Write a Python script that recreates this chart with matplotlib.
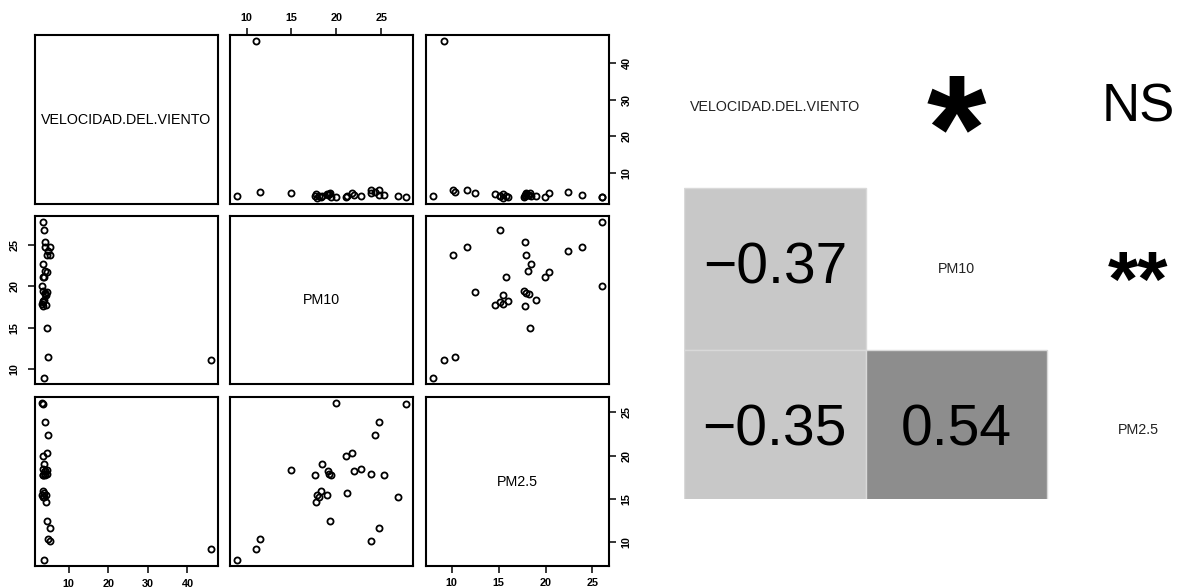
import matplotlib
matplotlib.use("Agg")
import matplotlib.pyplot as plt
from matplotlib.patches import Rectangle
from matplotlib.transforms import offset_copy

plt.rcParams['font.family'] = ['Liberation Sans', 'DejaVu Sans']

# ---------------- data ----------------
var_names = ["VELOCIDAD.DEL.VIENTO", "PM10", "PM2.5"]
wind = [3.3, 3.5, 3.9, 4.8, 3.4, 4.4, 4.5, 3.7, 3.6, 3.9, 4.1, 3.5, 4.0, 3.6, 4.4,
        3.9, 3.4, 3.2, 3.6, 4.3, 4.3, 3.8, 3.7, 4.5, 5.3, 5.2, 4.8, 46.0, 3.7]
pm10 = [20.0, 27.78, 24.72, 24.27, 21.1, 21.73, 14.93, 18.36, 17.62, 19.08, 19.19,
        19.45, 21.92, 22.74, 23.86, 25.36, 18.25, 17.8, 18.07, 19.0, 17.74, 21.17,
        26.85, 19.26, 24.72, 23.82, 11.46, 11.08, 8.91]
pm25 = [26.04, 25.97, 23.84, 22.42, 19.99, 20.34, 18.37, 18.98, 17.79, 18.22, 17.9,
        17.75, 18.17, 18.48, 17.9, 17.79, 15.97, 15.51, 15.2, 15.44, 14.63, 15.74,
        15.2, 12.5, 11.66, 10.15, 10.35, 9.19, 7.99]
axis_ticks = [[10, 20, 30, 40], [10, 15, 20, 25], [10, 15, 20, 25]]

# correlation panel
corr_cells = [(1, 0, -0.37), (2, 0, -0.35), (2, 1, 0.54)]   # (row, col, r)
signif_cells = [(0, 1, "*"), (0, 2, "NS"), (1, 2, "**")]

# ---------------- layout ----------------
W, H = 1187, 588
fig = plt.figure(figsize=(W / 100, H / 100), dpi=100)


def ax_at(x0, y0, x1, y1):
    return fig.add_axes([x0 / W, 1 - y1 / H, (x1 - x0) / W, (y1 - y0) / H])


cols_px = [(35, 218), (230, 413), (426, 609)]
rows_px = [(35, 204), (216, 384), (397, 566)]
data = [wind, pm10, pm25]


def lims(v):
    lo, hi = min(v), max(v)
    r = hi - lo
    return lo - 0.04 * r, hi + 0.04 * r


n = 3
for i in range(n):
    for j in range(n):
        ax = ax_at(cols_px[j][0], rows_px[i][0], cols_px[j][1], rows_px[i][1])
        ax.set_xlim(lims(data[j]))
        ax.set_ylim(lims(data[i]))
        for s in ax.spines.values():
            s.set_linewidth(1.5)
        if i == j:
            ax.text(0.5, 0.5, var_names[i], transform=ax.transAxes, ha='center',
                    va='center', fontsize=10.3, color='black')
        else:
            ax.plot(data[j], data[i], 'o', mfc='none', mec='black', ms=4.4, mew=1.3,
                    linestyle='none')
        ax.tick_params(which='both', top=False, bottom=False, left=False, right=False,
                       labeltop=False, labelbottom=False, labelleft=False,
                       labelright=False, direction='out', length=5, width=1.1,
                       labelsize=7.8)
        # x axis: top for even columns (1-based), bottom for odd
        if i == 0 and j % 2 == 1:
            ax.set_xticks(axis_ticks[j])
            ax.tick_params(top=True, labeltop=True, pad=3.5)
        elif i == n - 1 and j % 2 == 0:
            ax.set_xticks(axis_ticks[j])
            ax.tick_params(bottom=True, labelbottom=True, pad=4.5)
        else:
            ax.set_xticks([])
        # y axis: left for even rows (1-based), right for odd
        if j == 0 and i % 2 == 1:
            ax.set_yticks(axis_ticks[i])
            ax.tick_params(left=True, labelleft=True, pad=6)
            for t in ax.get_yticklabels():
                t.set_rotation(90)
                t.set_va('center')
        elif j == n - 1 and i % 2 == 0:
            ax.set_yticks(axis_ticks[i])
            ax.tick_params(right=True, labelright=True, pad=4)
            for t in ax.get_yticklabels():
                t.set_rotation(90)
                t.set_va('center')
        else:
            ax.set_yticks([])
        for t in ax.get_xticklabels() + ax.get_yticklabels():
            t.set_fontweight('bold')

# ---------------- correlation matrix ----------------
cell_w, cell_h = 181.7, 161.6
x0, x1 = 684, W
y_top, y_bot = 26.4, 499.3
axc = ax_at(x0, y_top, x1, y_bot)
axc.set_xlim(0, (x1 - x0) / cell_w)
axc.set_ylim(3 - (y_bot - y_top) / cell_h, 3)
axc.axis('off')


def cell_xy(r, c):
    return c, 2 - r


for r, c, val in corr_cells:
    cx, cy = cell_xy(r, c)
    col = '#c8c8c8' if val < 0 else '#8d8d8d'
    axc.add_patch(Rectangle((cx, cy), 1, 1, facecolor=col, edgecolor='#d9d9d9',
                            linewidth=1.0, clip_on=True))
    axc.text(cx + 0.5, cy + 0.5, f"{val:.2f}".replace('-', '\u2212'), ha='center',
             va='center', fontsize=41, color='black')

for k, name in enumerate(var_names):
    cx, cy = cell_xy(k, k)
    axc.text(cx + 0.5, cy + 0.5, name, ha='center', va='center', fontsize=10.3,
             color='#222222')

for r, c, s in signif_cells:
    cx, cy = cell_xy(r, c)
    if s == "NS":
        axc.text(cx + 0.5, cy + 0.5, s, ha='center', va='center', fontsize=38,
                 color='black')
    else:
        size = 110 if len(s) == 1 else 56
        tr = offset_copy(axc.transData, fig=fig, x=0, y=-0.22 * size, units='points')
        axc.text(cx + 0.5, cy + 0.5, s, ha='center', va='center', fontsize=size,
                 color='black', fontweight='bold', transform=tr)

fig.savefig("out.png", dpi=100)
